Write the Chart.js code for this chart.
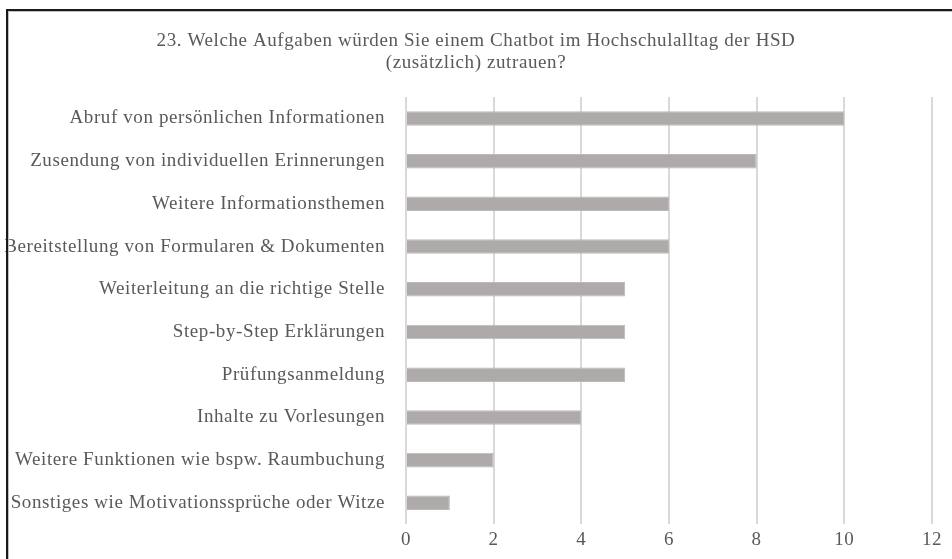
<!DOCTYPE html>
<html>
<head>
<meta charset="utf-8">
<script src="https://cdn.jsdelivr.net/npm/chart.js@4"></script>
<style>
  body { margin: 0; background: #fff; }
  #wrap { width: 952px; height: 559px; position: relative; }
</style>
</head>
<body>
<div id="wrap"><canvas id="barChart" width="952" height="559"></canvas></div>
<script>
// Daten aus Frage 23
const titleLines = [
    "23. Welche Aufgaben würden Sie einem Chatbot im Hochschulalltag der HSD",
    "(zusätzlich) zutrauen?"
];

const categories = [
    "Abruf von persönlichen Informationen",
    "Zusendung von individuellen Erinnerungen",
    "Weitere Informationsthemen",
    "Bereitstellung von Formularen & Dokumenten",
    "Weiterleitung an die richtige Stelle",
    "Step-by-Step Erklärungen",
    "Prüfungsanmeldung",
    "Inhalte zu Vorlesungen",
    "Weitere Funktionen wie bspw. Raumbuchung",
    "Sonstiges wie Motivationssprüche oder Witze"
];

const counts = [10, 8, 6, 6, 5, 5, 5, 4, 2, 1];

const xMin = 0;
const xMax = 12;
const xStep = 2;

const textColor = "#595959";
const serif = "'Liberation Serif', 'Times New Roman', serif";

// Rahmen + etwas Buchstabenabstand wie im Original
const framePlugin = {
    id: "frame",
    beforeUpdate(chart) {
        chart.ctx.letterSpacing = "0.6px";
    },
    beforeDraw(chart) {
        chart.ctx.letterSpacing = "0.6px";
    },
    afterDraw(chart) {
        const ctx = chart.ctx;
        ctx.save();
        ctx.strokeStyle = "#bfbfbf";
        ctx.lineWidth = 1;
        ctx.beginPath();
        ctx.moveTo(8.5, 600);
        ctx.lineTo(8.5, 11.5);
        ctx.lineTo(960, 11.5);
        ctx.stroke();
        ctx.strokeStyle = "#1a1a1a";
        ctx.lineWidth = 2;
        ctx.beginPath();
        ctx.moveTo(7, 600);
        ctx.lineTo(7, 10);
        ctx.lineTo(960, 10);
        ctx.stroke();
        ctx.restore();
    }
};

function renderBarChart() {
    const ctx = document.getElementById("barChart").getContext("2d");

    new Chart(ctx, {
        type: "bar",
        data: {
            labels: categories,
            datasets: [{
                data: counts,
                backgroundColor: "#aeaaaa",
                borderColor: "#bcb9b9",
                borderWidth: 1,
                barPercentage: 0.34,
                categoryPercentage: 1
            }]
        },
        options: {
            indexAxis: "y",
            responsive: false,
            animation: false,
            layout: {
                padding: { left: 0, right: 0, top: 0, bottom: 4 }
            },
            plugins: {
                legend: { display: false },
                tooltip: { enabled: false },
                title: {
                    display: true,
                    text: titleLines,
                    color: textColor,
                    font: { family: serif, size: 19, weight: "normal", lineHeight: 1.16 },
                    padding: { top: 30, bottom: 23 }
                }
            },
            scales: {
                x: {
                    min: xMin,
                    max: xMax,
                    afterFit(scale) {
                        scale.paddingRight = 20;
                    },
                    ticks: {
                        stepSize: xStep,
                        color: textColor,
                        padding: 4,
                        font: { family: serif, size: 19 }
                    },
                    grid: {
                        color: "#d9d9d9",
                        lineWidth: 2,
                        drawTicks: false,
                        tickLength: 0
                    },
                    border: { display: false }
                },
                y: {
                    afterFit(scale) {
                        scale.width = 406;
                    },
                    ticks: {
                        color: textColor,
                        padding: 13,
                        font: { family: serif, size: 19 }
                    },
                    grid: { display: false },
                    border: { display: false }
                }
            }
        },
        plugins: [framePlugin]
    });
}

document.addEventListener("DOMContentLoaded", renderBarChart);
</script>
</body>
</html>
